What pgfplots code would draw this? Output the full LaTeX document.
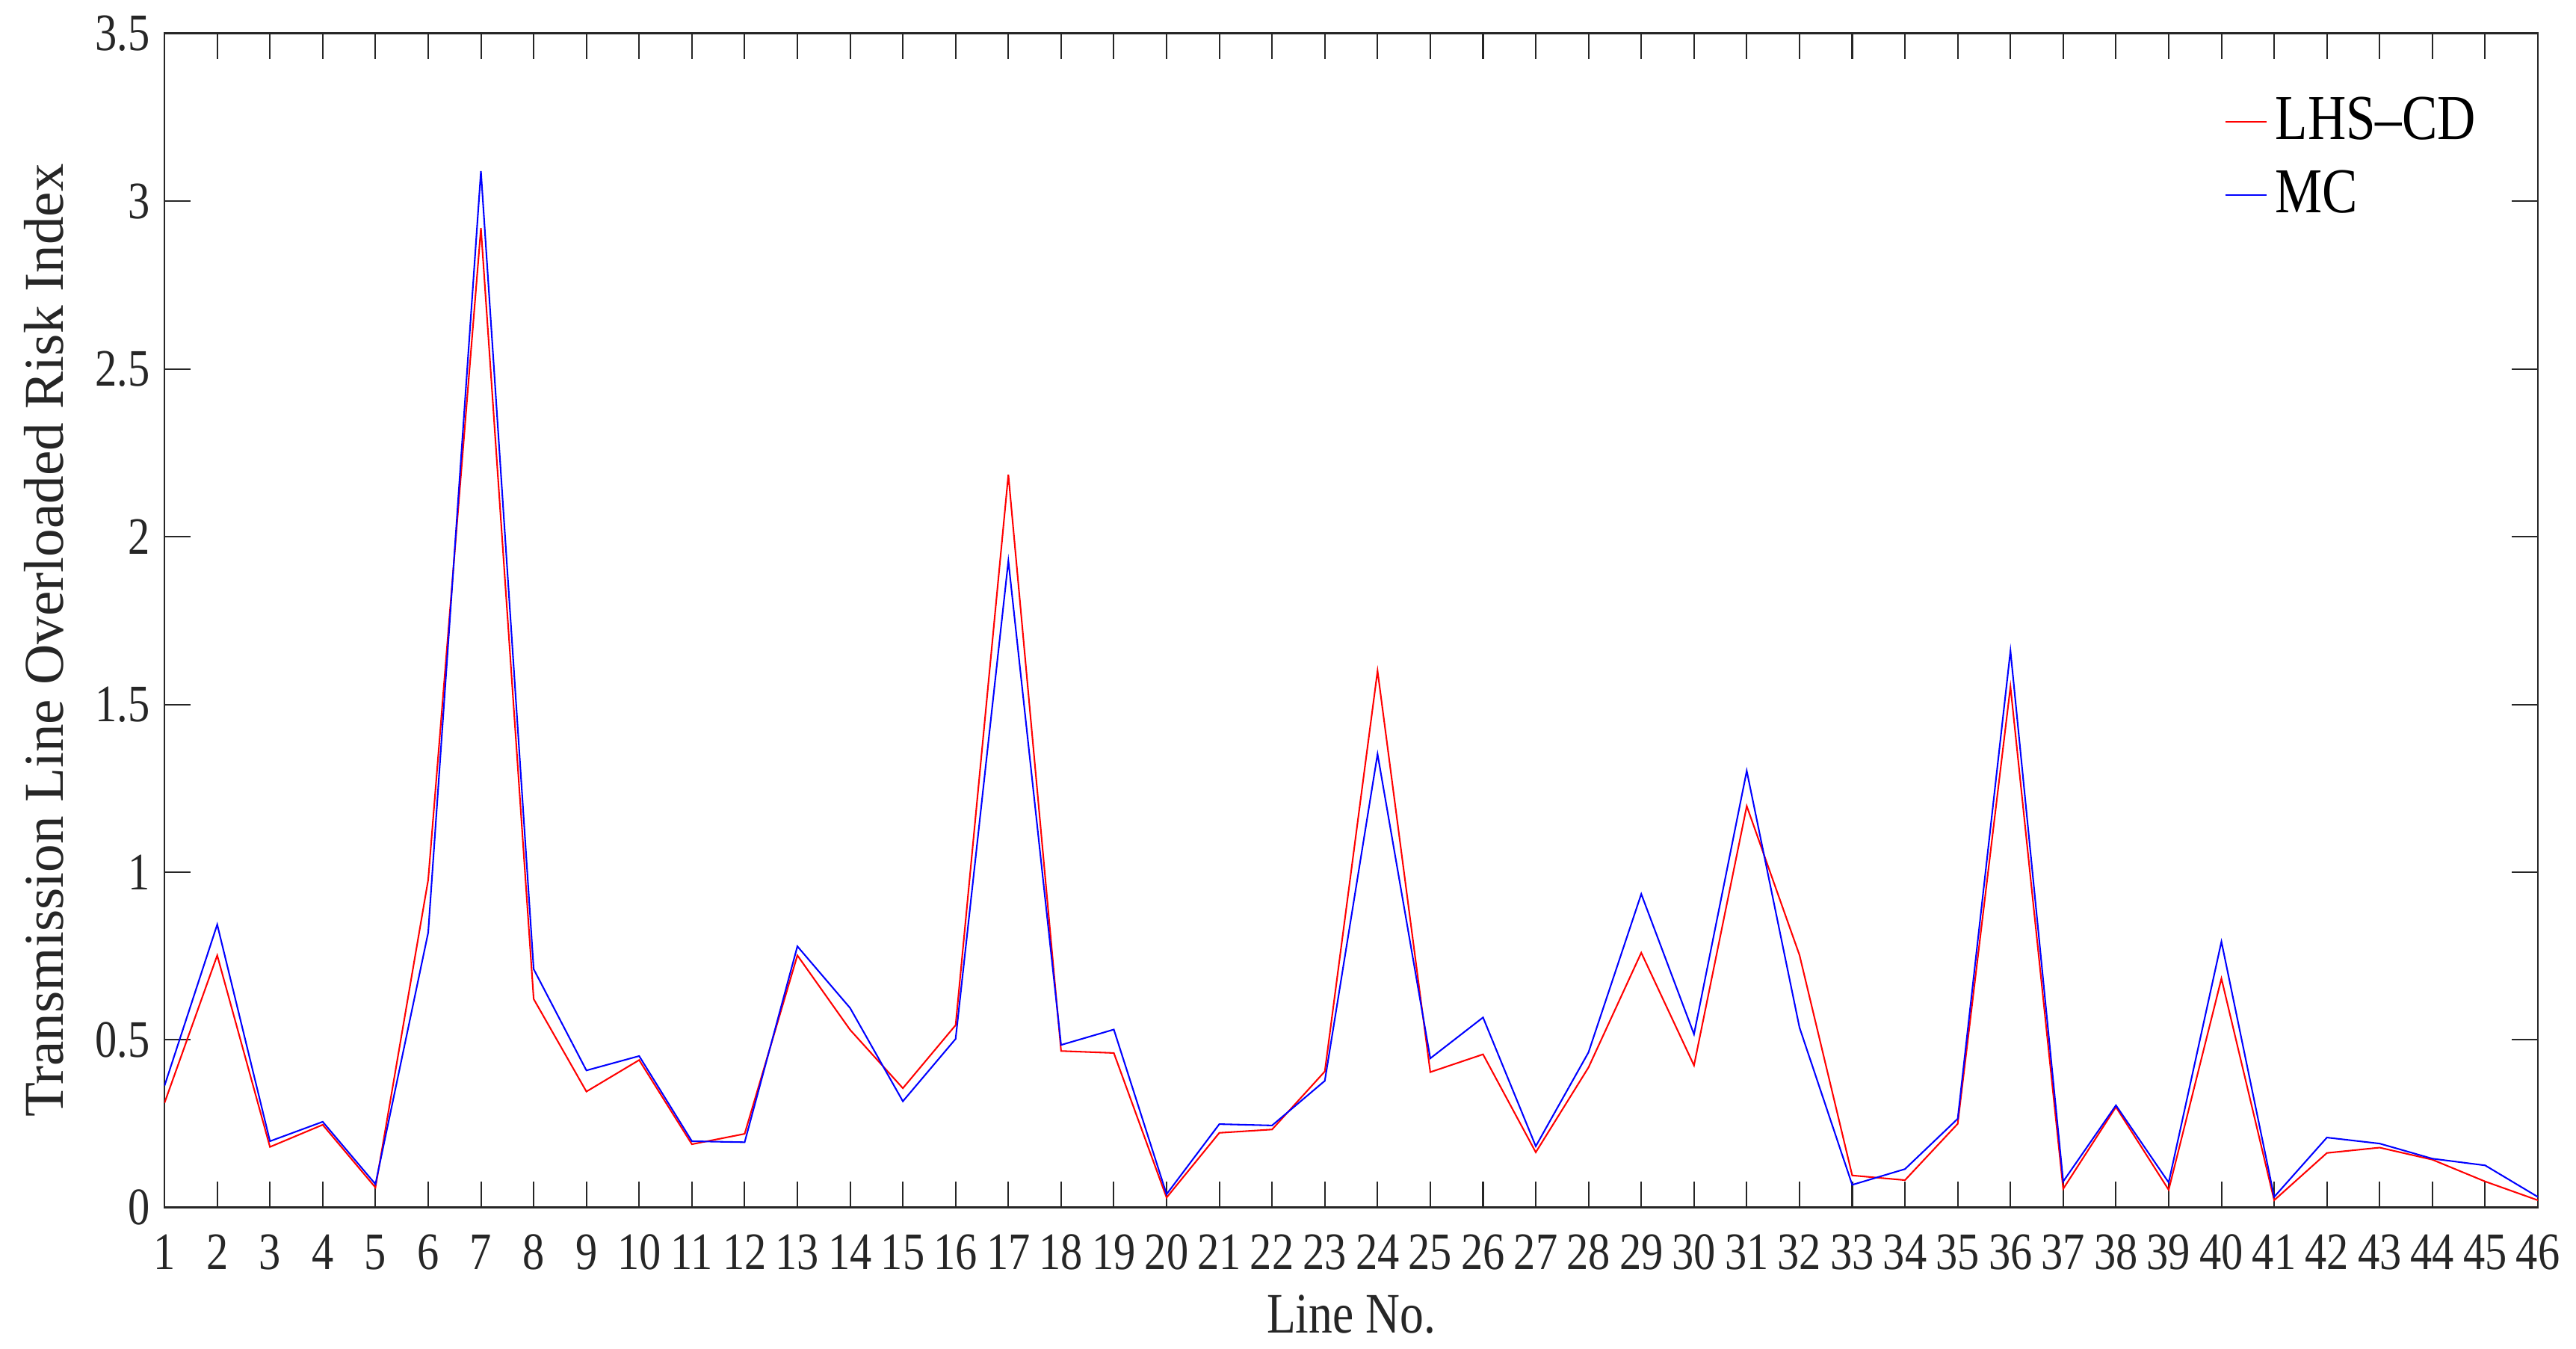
\documentclass[border=0pt]{standalone}
\usepackage{fontspec}
\setmainfont[FakeStretch=0.83]{Liberation Serif}
\newfontfamily\ylabfont{Liberation Serif}
\usepackage{pgfplots}
\pgfplotsset{compat=1.18}
\definecolor{axgray}{RGB}{38,38,38}

\begin{document}
\begin{tikzpicture}
\begin{axis}[
    scale only axis,
    width=460.3pt,
    height=227.7pt,
    xmin=1, xmax=46,
    ymin=0, ymax=3.5,
    xtick={1,...,46},
    ytick={0,0.5,...,3.5},
    /pgf/number format/assume math mode=true,
    axis line style={axgray, line width=0.4pt},
    major tick style={axgray, line width=0.3pt},
    major tick length=5pt,
    tick label style={font=\fontsize{10.2}{12}\selectfont, text=axgray},
    x tick label style={anchor=base, yshift=-12pt},
    y tick label style={inner xsep=2.6pt},
    xlabel={Line No.},
    ylabel={Transmission Line Overloaded Risk Index},
    xlabel style={font=\fontsize{11.1}{13}\selectfont, text=axgray,
        at={(axis description cs:0.5,-0.107)}, anchor=base},
    ylabel style={font=\ylabfont\fontsize{10.9}{13}\selectfont, text=axgray,
        at={(axis description cs:-0.0507,0.483)}, anchor=center},
    legend style={at={(axis description cs:0.8675,0.957)}, anchor=north west,
        draw=none, fill=none, inner sep=0pt, row sep=0pt,
        font=\fontsize{12.4}{14}\selectfont,
        nodes={text height=9pt, text depth=2pt, inner sep=1.6pt}},
    legend cell align=left,
    legend image code/.code={\draw[#1] (0pt,0pt) -- (8pt,0pt);},
]

% LHS-CD
\addplot[red, line width=0.3pt] coordinates {
(1,0.312) (2,0.752) (3,0.181) (4,0.247) (5,0.060) (6,0.977) (7,2.92) (8,0.622)
(9,0.346) (10,0.44) (11,0.189) (12,0.22) (13,0.752) (14,0.53) (15,0.356) (16,0.544)
(17,2.185) (18,0.467) (19,0.461) (20,0.03) (21,0.223) (22,0.233) (23,0.406) (24,1.60)
(25,0.404) (26,0.457) (27,0.165) (28,0.418) (29,0.76) (30,0.424) (31,1.197) (32,0.753)
(33,0.096) (34,0.082) (35,0.25) (36,1.553) (37,0.056) (38,0.30) (39,0.053) (40,0.683)
(41,0.022) (42,0.163) (43,0.179) (44,0.143) (45,0.078) (46,0.022)
};

% MC
\addplot[blue, line width=0.3pt] coordinates {
(1,0.363) (2,0.844) (3,0.198) (4,0.256) (5,0.07) (6,0.82) (7,3.09) (8,0.711)
(9,0.409) (10,0.452) (11,0.198) (12,0.195) (13,0.779) (14,0.595) (15,0.317) (16,0.503)
(17,1.928) (18,0.485) (19,0.531) (20,0.04) (21,0.249) (22,0.245) (23,0.378) (24,1.352)
(25,0.445) (26,0.567) (27,0.183) (28,0.463) (29,0.935) (30,0.517) (31,1.302) (32,0.537)
(33,0.068) (34,0.115) (35,0.265) (36,1.66) (37,0.078) (38,0.305) (39,0.075) (40,0.793)
(41,0.032) (42,0.209) (43,0.191) (44,0.146) (45,0.126) (46,0.032)
};

\legend{LHS--CD, MC}
\end{axis}
\pgfresetboundingbox
\path (-31.9pt,-27.4pt) rectangle (467.7pt,234.2pt);
\end{tikzpicture}
\end{document}
